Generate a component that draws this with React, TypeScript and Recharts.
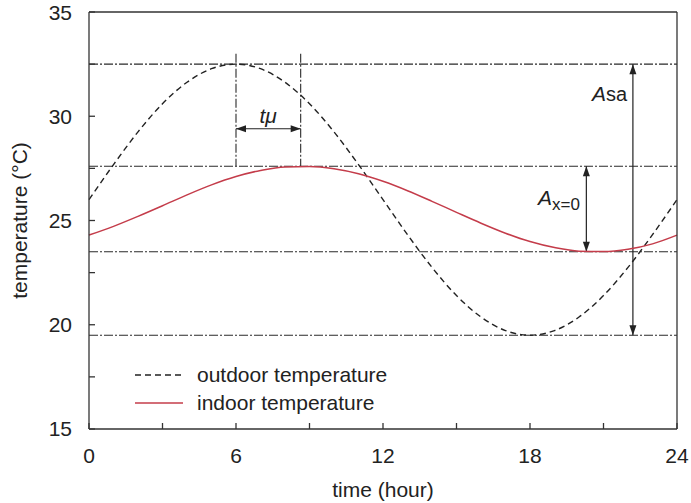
import React from 'react';
import {
    Legend,
    Line,
    LineChart,
    ReferenceDot,
    ReferenceLine,
    XAxis,
    YAxis,
} from 'recharts';

const FONT = '"Liberation Sans", Arial, Helvetica, sans-serif';

// hour of day
const hours = [0, 1, 2, 3, 4, 5, 6, 7, 8, 9, 10, 11, 12, 13, 14, 15, 16, 17, 18, 19, 20, 21, 22, 23, 24];
// temperatures (°C)
const outdoor = [
    26, 27.68, 29.25, 30.6, 31.63, 32.28, 32.5, 32.28, 31.63, 30.6, 29.25, 27.68, 26, 24.32, 22.75, 21.4,
    20.37, 19.72, 19.5, 19.72, 20.37, 21.4, 22.75, 24.32, 26,
];
const indoor = [
    24.3, 24.72, 25.2, 25.71, 26.23, 26.71, 27.11, 27.4, 27.57, 27.59, 27.48, 27.24, 26.88, 26.43, 25.92,
    25.39, 24.87, 24.39, 23.99, 23.7, 23.53, 23.51, 23.62, 23.88, 24.3,
];

const xTicks = [0, 3, 6, 9, 12, 15, 18, 21, 24];
const yTicks = [15, 17.5, 20, 22.5, 25, 27.5, 30, 32.5, 35];

const seriesKeys = ['outdoor', 'indoor'];
const seriesNames = ['outdoor temperature', 'indoor temperature'];
const seriesColors = ['#222222', '#c43c4a'];
const seriesDashes = ['6 4', undefined];

// dash-dot guide levels
const levels = [32.5, 27.6, 23.5, 19.5];
// vertical guides marking the two peaks
const peakGuides = [
    { x: 6, top: 33, bottom: 27.6 },
    { x: 8.64, top: 33, bottom: 27.6 },
];
// double-headed arrows
const arrows = [
    { x1: 6, y1: 29.4, x2: 8.64, y2: 29.4 },
    { x1: 20.3, y1: 27.6, x2: 20.3, y2: 23.5 },
    { x1: 22.2, y1: 32.5, x2: 22.2, y2: 19.5 },
];
// annotation labels: position (x, baseline y), anchor
const labels = [
    { id: 'tmu', x: 7.31, y: 29.68, anchor: 'middle' },
    { id: 'asa', x: 21.96, y: 30.73, anchor: 'end' },
    { id: 'ax0', x: 20.04, y: 25.74, anchor: 'end' },
];

const data = hours.map((t, i) => ({ t, outdoor: outdoor[i], indoor: indoor[i] }));

const AXIS = '#333333';
const GUIDE = '#2a2a2a';
const GUIDE_DASH = '9 2 2 2';

function ArrowShape(props: any) {
    const { x1, y1, x2, y2 } = props;
    const dx = x2 - x1;
    const dy = y2 - y1;
    const len = Math.sqrt(dx * dx + dy * dy) || 1;
    const ux = dx / len;
    const uy = dy / len;
    const L = 10;
    const W = 3.5;
    const head = (x: number, y: number, sx: number, sy: number) => {
        const bx = x - sx * L;
        const by = y - sy * L;
        return `${x},${y} ${bx - sy * W},${by + sx * W} ${bx + sy * W},${by - sx * W}`;
    };
    return (
        <g>
            <line x1={x1} y1={y1} x2={x2} y2={y2} stroke="#222" strokeWidth={1.2} />
            <polygon points={head(x2, y2, ux, uy)} fill="#222" />
            <polygon points={head(x1, y1, -ux, -uy)} fill="#222" />
        </g>
    );
}

function LabelShape(props: any, id: string, anchor: string) {
    const { cx, cy } = props;
    if (id === 'tmu') {
        return (
            <text x={cx} y={cy} textAnchor={anchor} fontFamily={FONT} fontSize={21} fill="#222" fontStyle="italic">
                tμ
            </text>
        );
    }
    if (id === 'asa') {
        return (
            <text x={cx} y={cy} textAnchor={anchor} fontFamily={FONT} fontSize={21} fill="#222">
                <tspan fontStyle="italic">A</tspan>
                <tspan fontSize={20}>sa</tspan>
            </text>
        );
    }
    return (
        <text x={cx} y={cy} textAnchor={anchor} fontFamily={FONT} fontSize={21} fill="#222">
            <tspan fontStyle="italic">A</tspan>
            <tspan fontSize={17} dy={5}>
                x=0
            </tspan>
        </text>
    );
}

function LegendContent() {
    return (
        <div style={{ fontFamily: FONT, fontSize: 21, color: '#222' }}>
            {seriesKeys.map((key, i) => (
                <div key={key} style={{ display: 'flex', alignItems: 'center', height: 28 }}>
                    <svg width={48} height={10}>
                        <line
                            x1={0}
                            y1={5}
                            x2={48}
                            y2={5}
                            stroke={seriesColors[i]}
                            strokeWidth={1.3}
                            strokeDasharray={seriesDashes[i]}
                        />
                    </svg>
                    <span style={{ marginLeft: 14 }}>{seriesNames[i]}</span>
                </div>
            ))}
        </div>
    );
}

export default function App() {
    const tickStyle = { fill: '#222', fontSize: 21, fontFamily: FONT };
    return (
        <div style={{ position: 'absolute', left: 0, top: 0, background: '#fff' }}>
            <LineChart width={691} height={503} data={data} margin={{ top: 11, right: 13, bottom: 0, left: 0 }}>
                <XAxis
                    dataKey="t"
                    type="number"
                    domain={[0, 24]}
                    ticks={xTicks}
                    tickFormatter={(v: number) => (v % 6 === 0 ? String(v) : '')}
                    tick={tickStyle}
                    tickSize={-6}
                    tickMargin={25}
                    height={74}
                    stroke={AXIS}
                    strokeWidth={1.3}
                    label={{
                        value: 'time (hour)',
                        position: 'insideBottom',
                        offset: 6,
                        style: { fill: '#222', fontSize: 21, fontFamily: FONT },
                    }}
                />
                <XAxis
                    xAxisId="top"
                    orientation="top"
                    type="number"
                    domain={[0, 24]}
                    ticks={xTicks}
                    tick={false}
                    tickSize={-6}
                    height={1}
                    stroke={AXIS}
                    strokeWidth={1.3}
                />
                <YAxis
                    type="number"
                    domain={[15, 35]}
                    ticks={yTicks}
                    tickFormatter={(v: number) => (v % 5 === 0 ? String(v) : '')}
                    tick={tickStyle}
                    tickSize={-6}
                    tickMargin={23}
                    width={89}
                    stroke={AXIS}
                    strokeWidth={1.3}
                    label={{
                        value: 'temperature (°C)',
                        angle: -90,
                        position: 'insideLeft',
                        offset: 20,
                        style: { fill: '#222', fontSize: 21, fontFamily: FONT, textAnchor: 'middle' },
                    }}
                />
                <YAxis
                    yAxisId="right"
                    orientation="right"
                    type="number"
                    domain={[15, 35]}
                    ticks={yTicks}
                    tick={false}
                    tickSize={-6}
                    width={1}
                    stroke={AXIS}
                    strokeWidth={1.3}
                />

                {levels.map((v) => (
                    <ReferenceLine key={v} y={v} stroke={GUIDE} strokeWidth={1.1} strokeDasharray={GUIDE_DASH} />
                ))}
                {peakGuides.map((g) => (
                    <ReferenceLine
                        key={g.x}
                        segment={[
                            { x: g.x, y: g.top },
                            { x: g.x, y: g.bottom },
                        ]}
                        stroke={GUIDE}
                        strokeWidth={1.1}
                        strokeDasharray={GUIDE_DASH}
                    />
                ))}
                {arrows.map((a, i) => (
                    <ReferenceLine
                        key={i}
                        segment={[
                            { x: a.x1, y: a.y1 },
                            { x: a.x2, y: a.y2 },
                        ]}
                        shape={ArrowShape}
                    />
                ))}
                {labels.map((l) => (
                    <ReferenceDot
                        key={l.id}
                        x={l.x}
                        y={l.y}
                        r={0}
                        shape={(p: any) => LabelShape(p, l.id, l.anchor)}
                    />
                ))}

                <Line
                    dataKey="outdoor"
                    name={seriesNames[0]}
                    type="monotone"
                    stroke={seriesColors[0]}
                    strokeWidth={1.4}
                    strokeDasharray={seriesDashes[0]}
                    dot={false}
                    activeDot={false}
                    isAnimationActive={false}
                />
                <Line
                    dataKey="indoor"
                    name={seriesNames[1]}
                    type="monotone"
                    stroke={seriesColors[1]}
                    strokeWidth={1.5}
                    dot={false}
                    activeDot={false}
                    isAnimationActive={false}
                />
                <Legend
                    layout="vertical"
                    align="center"
                    verticalAlign="middle"
                    wrapperStyle={{ left: 135, top: 361, width: 300 }}
                    content={LegendContent}
                />
            </LineChart>
        </div>
    );
}
